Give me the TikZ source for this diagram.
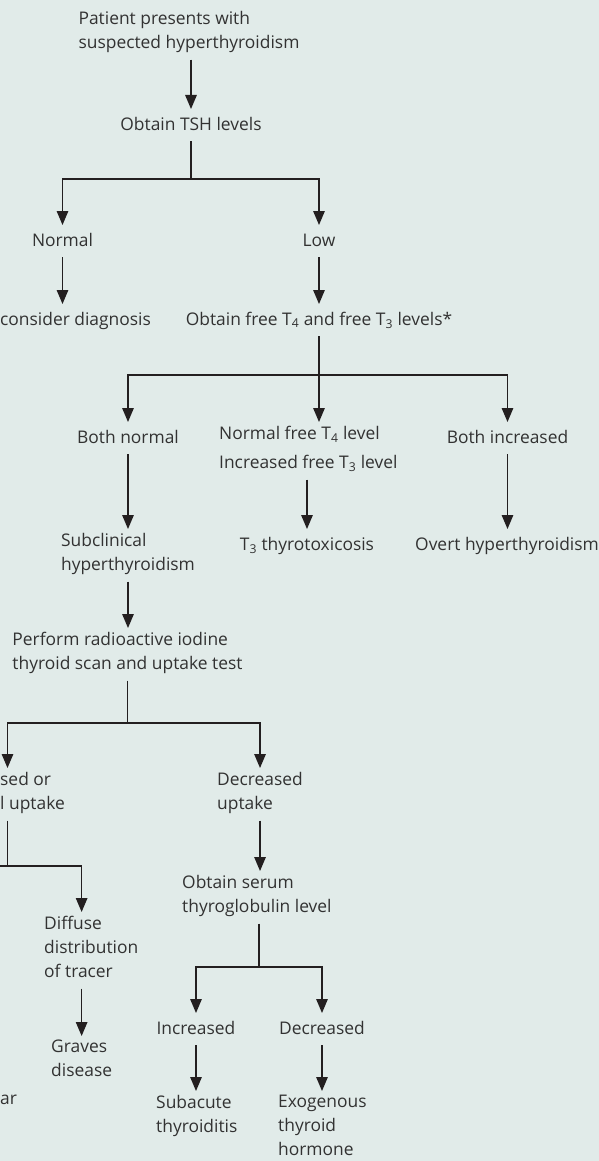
\documentclass[tikz,border=0pt]{standalone}
\usepackage{fontspec}
\setmainfont{Open Sans}
\usetikzlibrary{arrows.meta}
\definecolor{panel}{RGB}{225,235,233}
\definecolor{ink}{RGB}{35,31,32}
\definecolor{txt}{RGB}{50,50,50}
\newcommand{\lstrut}{\rule[-7pt]{0pt}{24pt}}
\tikzset{
  lbl/.style  = {font=\fontsize{17.4}{24}\selectfont, text=txt, inner xsep=2pt, inner ysep=4pt,
                 execute at begin node=\lstrut, execute at end node=\lstrut},
  lblL/.style = {lbl, align=left},
  wire/.style = {line width=1.4pt, draw=ink},
  arr/.style  = {wire, -{Triangle[length=14pt,width=11.5pt]}},
}

\begin{document}
\begin{tikzpicture}[x=1pt,y=-1pt]
  \useasboundingbox (0,0) rectangle (599,1161);
  \fill[panel] (0,0) rectangle (599,1161);

  % top of the chart
  \node[lblL,anchor=north] (start) at (189,7) {Patient presents with\\suspected hyperthyroidism};
  \node[lbl,anchor=north] (tsh) at (191,109) {Obtain TSH levels};
  \node[lbl,anchor=north] (normal) at (62.5,225) {Normal};
  \node[lbl,anchor=north] (low) at (319,225) {Low};
  \node[lbl,anchor=north west] (recon) at (-2,304) {consider diagnosis};
  \node[lbl,anchor=north] (freet) at (319,304) {Obtain free T\textsubscript{4} and free T\textsubscript{3} levels*};

  % free T4 / T3 results
  \node[lbl,anchor=north] (bnorm) at (128,422) {Both normal};
  \node[lblL,anchor=north west] (mixed) at (217,422) {Normal free T\textsubscript{4} level\\[5pt]Increased free T\textsubscript{3} level};
  \node[lbl,anchor=north] (binc) at (507.5,422) {Both increased};
  \node[lblL,anchor=north] (subcl) at (128,529) {Subclinical\\hyperthyroidism};
  \node[lbl,anchor=north] (t3tox) at (307,529) {T\textsubscript{3} thyrotoxicosis};
  \node[lbl,anchor=north] (overt) at (507,529) {Overt hyperthyroidism};

  % scan and uptake
  \node[lblL,anchor=north] (scan) at (127.5,628) {Perform radioactive iodine\\thyroid scan and uptake test};
  \node[lblL,anchor=north west] (incr) at (-2,768) {sed or\\l uptake};
  \node[lblL,anchor=north west] (decup) at (215,768) {Decreased\\uptake};
  \node[lblL,anchor=north west] (serum) at (180,871) {Obtain serum\\thyroglobulin level};
  \node[lblL,anchor=north west] (diffuse) at (42,912) {Diffuse\\distribution\\of tracer};
  \node[lblL,anchor=north west] (graves) at (49,1036) {Graves\\disease};
  \node[lbl,anchor=north west] (nodul) at (-2,1083) {ar};
  \node[lbl,anchor=north] (incd) at (196,1013) {Increased};
  \node[lbl,anchor=north] (decd) at (322,1013) {Decreased};
  \node[lblL,anchor=north west] (subac) at (154,1091) {Subacute\\thyroiditis};
  \node[lblL,anchor=north west] (exog) at (276,1091) {Exogenous\\thyroid\\hormone};

  \coordinate (s1) at (191,179);
  \coordinate (s2) at (319,375);
  \coordinate (s3) at (127.5,723);
  \coordinate (k1) at (7.5,866);
  \coordinate (k0) at (-10,866);
  \coordinate (s4) at (259,967);

  \draw[arr] (start.south -| tsh) -- (tsh.north);
  \draw[wire] (tsh.south) -- (s1);
  \draw[arr] (s1) -| (normal.north);
  \draw[arr] (s1) -| (low.north);
  \draw[arr] (normal.south) -- (normal.south |- recon.north);
  \draw[arr] (low.south) -- (low.south |- freet.north);

  \draw[arr] (freet.south) -- (freet.south |- mixed.north);
  \draw[arr] (s2) -| (bnorm.north);
  \draw[arr] (s2) -| (binc.north);
  \draw[arr] (bnorm.south) -- (bnorm.south |- subcl.north);
  \draw[arr] (mixed.south -| t3tox) -- (t3tox.north);
  \draw[arr] (binc.south) -- (binc.south |- overt.north);

  \draw[arr] (subcl.south -| bnorm) -- (bnorm |- scan.north);
  \draw[wire] (scan.south -| s3) -- (s3);
  \draw[arr] (s3) -| (k1 |- incr.north);
  \draw[arr] (s3) -| (decup.north);
  \draw[wire] (incr.south -| k1) -- (k1);
  \draw[wire] (k0) -- (k1);
  \draw[arr] (k1) -| (graves |- diffuse.north);
  \draw[arr] (diffuse.south -| graves) -- (graves.north);
  \draw[arr] (decup.south) -- (decup.south |- serum.north);
  \draw[wire] (serum.south -| s4) -- (s4);
  \draw[arr] (s4) -| (incd.north);
  \draw[arr] (s4) -| (decd.north);
  \draw[arr] (incd.south) -- (incd.south |- subac.north);
  \draw[arr] (decd.south) -- (decd.south |- exog.north);
\end{tikzpicture}
\end{document}
